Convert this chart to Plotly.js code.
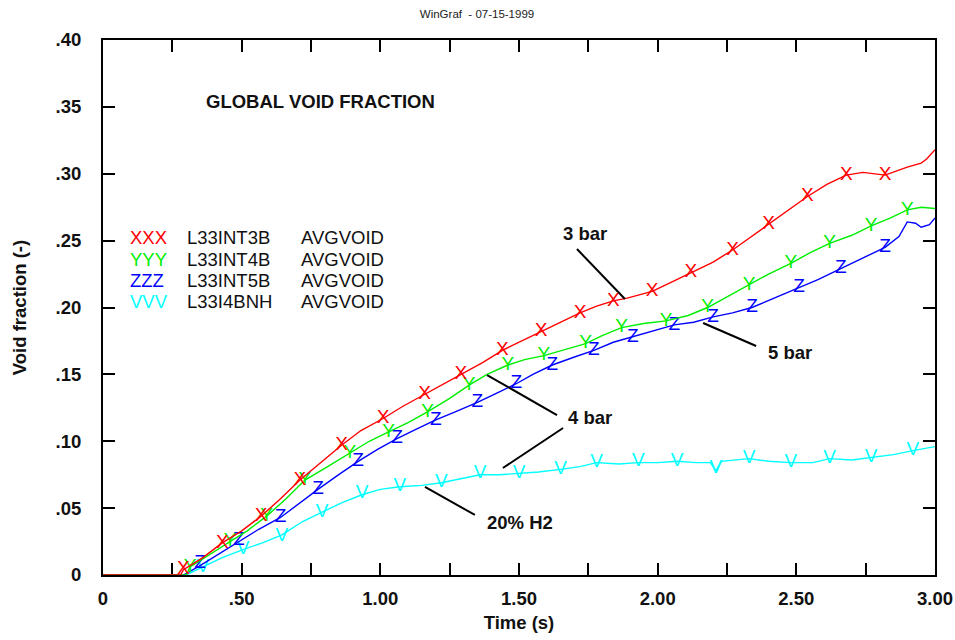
<!DOCTYPE html>
<html>
<head>
<meta charset="utf-8">
<script src="https://cdn.plot.ly/plotly-3.0.1.min.js"></script>
<style>html,body{margin:0;padding:0;background:#fff;}#chart{width:955px;height:640px;}</style>
</head>
<body>
<div id="chart"></div>
<script>
// ---- data ----
const seriesNames = ['L33INT3B', 'L33INT4B', 'L33INT5B', 'L33I4BNH'];
const seriesSymbols = ['X', 'Y', 'Z', 'V'];
const variableName = 'AVGVOID';
const seriesColors = ['#ff0000', '#00ee00', '#0000ff', '#00ffff'];

// 3 bar
const redT = [0, 0.28, 0.29, 0.36, 0.43, 0.50, 0.57, 0.64, 0.71, 0.78, 0.86, 0.93, 1.01, 1.08, 1.16, 1.22, 1.29, 1.37, 1.44, 1.51, 1.58, 1.65, 1.72, 1.78, 1.84, 1.89, 1.98, 2.05, 2.12, 2.20, 2.27, 2.33, 2.40, 2.47, 2.54, 2.61, 2.68, 2.74, 2.82, 2.90, 2.95, 2.97, 3.00];
const redV = [0, 0, 0.004, 0.013, 0.024, 0.033, 0.044, 0.057, 0.071, 0.083, 0.097, 0.108, 0.117, 0.126, 0.135, 0.142, 0.150, 0.159, 0.168, 0.175, 0.182, 0.189, 0.196, 0.201, 0.205, 0.207, 0.212, 0.219, 0.226, 0.234, 0.243, 0.252, 0.262, 0.273, 0.283, 0.292, 0.299, 0.301, 0.299, 0.305, 0.308, 0.311, 0.318];
const redMarkT = [0.29, 0.43, 0.57, 0.71, 0.86, 1.01, 1.16, 1.29, 1.44, 1.58, 1.72, 1.84, 1.98, 2.12, 2.27, 2.40, 2.54, 2.68, 2.82];
const redMarkV = [0.004, 0.024, 0.044, 0.071, 0.097, 0.117, 0.135, 0.150, 0.168, 0.182, 0.196, 0.205, 0.212, 0.226, 0.243, 0.262, 0.283, 0.299, 0.299];

// 4 bar
const greenT = [0, 0.30, 0.314, 0.38, 0.458, 0.52, 0.59, 0.66, 0.728, 0.81, 0.89, 0.96, 1.03, 1.10, 1.17, 1.25, 1.32, 1.385, 1.46, 1.52, 1.59, 1.66, 1.74, 1.80, 1.87, 1.95, 2.03, 2.11, 2.18, 2.25, 2.33, 2.40, 2.48, 2.55, 2.62, 2.70, 2.77, 2.84, 2.90, 2.95, 3.00];
const greenV = [0, 0, 0.006, 0.015, 0.025, 0.033, 0.044, 0.057, 0.071, 0.081, 0.091, 0.100, 0.107, 0.114, 0.122, 0.132, 0.142, 0.150, 0.157, 0.161, 0.164, 0.168, 0.173, 0.179, 0.185, 0.188, 0.190, 0.194, 0.200, 0.208, 0.217, 0.225, 0.233, 0.241, 0.248, 0.254, 0.261, 0.267, 0.273, 0.275, 0.274];
const greenMarkT = [0.314, 0.458, 0.59, 0.728, 0.89, 1.03, 1.17, 1.32, 1.46, 1.59, 1.74, 1.87, 2.03, 2.18, 2.33, 2.48, 2.62, 2.77, 2.90];
const greenMarkV = [0.006, 0.025, 0.044, 0.071, 0.091, 0.107, 0.122, 0.142, 0.157, 0.164, 0.173, 0.185, 0.190, 0.200, 0.217, 0.233, 0.248, 0.261, 0.273];

// 5 bar
const blueT = [0, 0.29, 0.35, 0.42, 0.49, 0.56, 0.64, 0.71, 0.775, 0.85, 0.92, 0.99, 1.06, 1.13, 1.20, 1.27, 1.35, 1.42, 1.49, 1.55, 1.62, 1.70, 1.77, 1.84, 1.91, 1.98, 2.06, 2.13, 2.20, 2.27, 2.34, 2.42, 2.51, 2.58, 2.66, 2.74, 2.82, 2.87, 2.90, 2.93, 2.95, 2.98, 3.00];
const blueV = [0, 0, 0.007, 0.016, 0.025, 0.034, 0.043, 0.054, 0.064, 0.075, 0.085, 0.094, 0.102, 0.109, 0.116, 0.122, 0.129, 0.136, 0.143, 0.150, 0.157, 0.163, 0.168, 0.174, 0.178, 0.182, 0.187, 0.189, 0.193, 0.196, 0.200, 0.207, 0.215, 0.221, 0.229, 0.237, 0.245, 0.253, 0.264, 0.263, 0.260, 0.262, 0.267];
const blueMarkT = [0.35, 0.49, 0.64, 0.775, 0.92, 1.06, 1.20, 1.35, 1.49, 1.62, 1.77, 1.91, 2.06, 2.20, 2.34, 2.51, 2.66, 2.82];
const blueMarkV = [0.009, 0.026, 0.043, 0.064, 0.085, 0.102, 0.116, 0.129, 0.143, 0.157, 0.168, 0.178, 0.187, 0.193, 0.200, 0.215, 0.229, 0.245];

// 20% H2
const cyanT = [0, 0.30, 0.36, 0.43, 0.505, 0.575, 0.645, 0.72, 0.79, 0.86, 0.934, 1.00, 1.07, 1.15, 1.22, 1.29, 1.36, 1.43, 1.50, 1.57, 1.65, 1.72, 1.78, 1.86, 1.93, 2.00, 2.07, 2.14, 2.19, 2.21, 2.23, 2.33, 2.40, 2.48, 2.56, 2.62, 2.70, 2.77, 2.85, 2.92, 3.00];
const cyanV = [0, 0, 0.006, 0.013, 0.019, 0.024, 0.030, 0.040, 0.047, 0.054, 0.060, 0.064, 0.066, 0.067, 0.069, 0.072, 0.075, 0.075, 0.076, 0.077, 0.079, 0.081, 0.084, 0.083, 0.084, 0.084, 0.085, 0.084, 0.084, 0.078, 0.085, 0.087, 0.085, 0.084, 0.084, 0.087, 0.086, 0.088, 0.090, 0.093, 0.096];
const cyanMarkT = [0.36, 0.505, 0.645, 0.79, 0.934, 1.07, 1.22, 1.36, 1.50, 1.65, 1.78, 1.93, 2.07, 2.21, 2.33, 2.48, 2.62, 2.77, 2.92];
const cyanMarkV = [0.006, 0.019, 0.029, 0.047, 0.061, 0.066, 0.069, 0.076, 0.076, 0.079, 0.084, 0.085, 0.085, 0.080, 0.087, 0.084, 0.087, 0.088, 0.093];

const xTickVals = [0, 0.25, 0.5, 0.75, 1.0, 1.25, 1.5, 1.75, 2.0, 2.25, 2.5, 2.75, 3.0];
const xTickText = ['0', '', '.50', '', '1.00', '', '1.50', '', '2.00', '', '2.50', '', '3.00'];
const yTickVals = [0, 0.05, 0.10, 0.15, 0.20, 0.25, 0.30, 0.35, 0.40];
const yTickText = ['0', '.05', '.10', '.15', '.20', '.25', '.30', '.35', '.40'];

const curveLabels = ['3 bar', '4 bar', '5 bar', '20% H2'];

// ---- drawing ----
const FONT = 'Liberation Sans, Arial, Helvetica, sans-serif';
const lines = [[redT, redV], [greenT, greenV], [blueT, blueV], [cyanT, cyanV]];
const marks = [[redMarkT, redMarkV], [greenMarkT, greenMarkV], [blueMarkT, blueMarkV], [cyanMarkT, cyanMarkV]];

const traces = [];
[3, 2, 1, 0].forEach(i => {
  traces.push({
    x: lines[i][0], y: lines[i][1], type: 'scatter', mode: 'lines',
    line: {color: seriesColors[i], width: 1.4}, hoverinfo: 'skip', showlegend: false
  });
  traces.push({
    x: marks[i][0], y: marks[i][1], type: 'scatter', mode: 'text',
    text: marks[i][0].map(() => seriesSymbols[i]),
    textposition: 'middle center',
    textfont: {family: FONT, size: 19, color: seriesColors[i]},
    hoverinfo: 'skip', showlegend: false, cliponaxis: false
  });
});

const annotations = [];

// legend rows
const legY = [0.2525, 0.2360, 0.2200, 0.2043];
seriesNames.forEach((nm, i) => {
  annotations.push({x: 0.0901, y: legY[i], xref: 'x', yref: 'y', xanchor: 'left', yanchor: 'middle', showarrow: false,
    text: seriesSymbols[i].repeat(3), font: {family: FONT, size: 18.5, color: seriesColors[i]}});
  annotations.push({x: 0.2957, y: legY[i], xref: 'x', yref: 'y', xanchor: 'left', yanchor: 'middle', showarrow: false,
    text: nm, font: {family: FONT, size: 18.5, color: '#111'}});
  annotations.push({x: 0.7067, y: legY[i], xref: 'x', yref: 'y', xanchor: 'left', yanchor: 'middle', showarrow: false,
    text: variableName, font: {family: FONT, size: 18.5, color: '#111'}});
});

annotations.push({x: 0.783, y: 0.354, xref: 'x', yref: 'y', showarrow: false, text: '<b>GLOBAL VOID FRACTION</b>',
  font: {family: FONT, size: 18.5, color: '#111'}});

const labelPos = [[1.738, 0.2557], [1.756, 0.118], [2.477, 0.1667], [1.504, 0.0396]];
curveLabels.forEach((lb, i) => {
  annotations.push({x: labelPos[i][0], y: labelPos[i][1], xref: 'x', yref: 'y', showarrow: false,
    text: '<b>' + lb + '</b>', font: {family: FONT, size: 18.5, color: '#111'}});
});

const leaders = [
  [1.709, 0.2437, 1.882, 0.2064],
  [1.637, 0.1196, 1.385, 0.1495],
  [1.659, 0.1099, 1.442, 0.0800],
  [2.355, 0.1712, 2.164, 0.1884],
  [1.341, 0.0449, 1.161, 0.0658]
];
const shapes = leaders.map(l => ({type: 'line', xref: 'x', yref: 'y', x0: l[0], y0: l[1], x1: l[2], y1: l[3],
  line: {color: '#000', width: 2}}));

const layout = {
  width: 955, height: 640,
  margin: {l: 103, r: 20, t: 40, b: 65, pad: 0},
  paper_bgcolor: '#fff', plot_bgcolor: '#fff',
  showlegend: false,
  title: {text: 'WinGraf  - 07-15-1999', x: 0.4995, xanchor: 'center', y: 0.978, yanchor: 'middle',
    font: {family: FONT, size: 11.5, color: '#222'}},
  xaxis: {
    range: [0, 3], tickvals: xTickVals, ticktext: xTickText,
    ticks: 'inside', ticklen: 12, tickwidth: 2, tickcolor: '#000',
    showline: true, linecolor: '#000', linewidth: 2, mirror: 'allticks',
    showgrid: false, zeroline: false, layer: 'below traces',
    tickfont: {family: FONT, size: 18.5, color: '#111', weight: 'bold'},
    ticklabelstandoff: 6,
    title: {text: '<b>Time (s)</b>', font: {family: FONT, size: 18.5, color: '#111'}, standoff: 8}
  },
  yaxis: {
    range: [0, 0.4], tickvals: yTickVals, ticktext: yTickText,
    ticks: 'inside', ticklen: 12, tickwidth: 2, tickcolor: '#000',
    showline: true, linecolor: '#000', linewidth: 2, mirror: 'allticks',
    showgrid: false, zeroline: false, layer: 'below traces',
    tickfont: {family: FONT, size: 18.5, color: '#111', weight: 'bold'},
    ticklabelstandoff: 16,
    title: {text: '<b>Void fraction (-)</b>', font: {family: FONT, size: 18.5, color: '#111'}, standoff: 24}
  },
  annotations: annotations,
  shapes: shapes
};

Plotly.newPlot('chart', traces, layout, {displayModeBar: false, staticPlot: true});
</script>
</body>
</html>
